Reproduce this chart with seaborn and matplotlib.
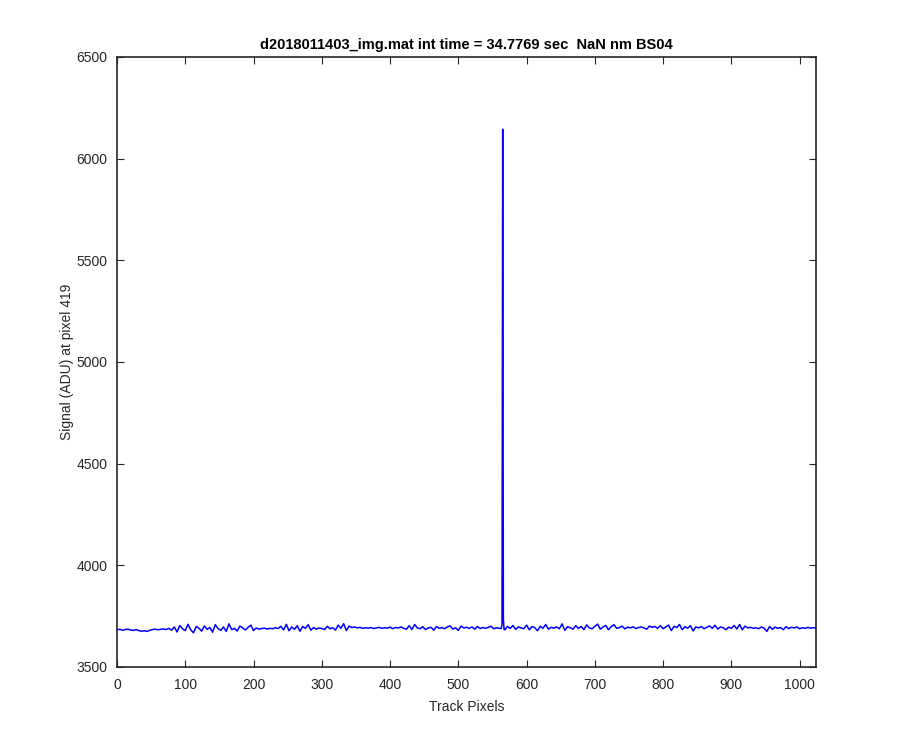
import numpy as np
import pandas as pd
import matplotlib
matplotlib.use("Agg")
import matplotlib.pyplot as plt
import seaborn as sns

# Baseline samples every 4 track pixels (0..1024)
base_pixels = np.arange(0, 1025, 4)
base_signal = [
    3683, 3685, 3681, 3684, 3686, 3682, 3680, 3684, 3679, 3676, 3678, 3675, 3680, 3684, 3686, 3683,
    3685, 3687, 3684, 3690, 3681, 3697, 3672, 3704, 3688, 3679, 3710, 3683, 3668, 3699, 3691, 3676,
    3702, 3685, 3694, 3671, 3708, 3689, 3680, 3697, 3675, 3712, 3684, 3690, 3677, 3701, 3693, 3682,
    3695, 3706, 3679, 3692, 3686, 3689, 3691, 3687, 3690, 3688, 3693, 3689, 3700, 3682, 3710, 3678,
    3697, 3685, 3703, 3676, 3699, 3690, 3708, 3681, 3694, 3686, 3692, 3689, 3684, 3700, 3688, 3693,
    3681, 3706, 3690, 3713, 3679, 3701, 3694, 3697, 3692, 3695, 3690, 3693, 3691, 3694, 3689, 3692,
    3695, 3690, 3693, 3691, 3696, 3688, 3694, 3692, 3697, 3690, 3686, 3703, 3684, 3709, 3692, 3688,
    3698, 3684, 3692, 3695, 3681, 3699, 3690, 3694, 3688, 3697, 3702, 3686, 3693, 3680, 3701, 3692,
    3695, 3690, 3697, 3686, 3699, 3689, 3694, 3690, 3695, 3700, 3688, 3693, 3690, 3692, 3683, 3699,
    3690, 3704, 3685, 3697, 3692, 3688, 3706, 3683, 3699, 3693, 3678, 3701, 3690, 3709, 3686, 3695,
    3691, 3697, 3688, 3712, 3680, 3698, 3693, 3686, 3703, 3690, 3699, 3684, 3707, 3692, 3688, 3700,
    3711, 3686, 3697, 3704, 3683, 3699, 3708, 3690, 3694, 3701, 3687, 3696, 3692, 3698, 3689, 3694,
    3697, 3692, 3686, 3701, 3695, 3699, 3690, 3703, 3688, 3697, 3706, 3679, 3700, 3694, 3709, 3683,
    3698, 3691, 3703, 3677, 3697, 3692, 3699, 3688, 3695, 3702, 3690, 3705, 3686, 3697, 3693, 3683,
    3696, 3690, 3704, 3687, 3709, 3683, 3701, 3692, 3695, 3690, 3693, 3688, 3697, 3691, 3675, 3699,
    3685, 3696, 3690, 3694, 3683, 3698, 3689, 3695, 3692, 3697, 3688, 3693, 3690, 3695, 3691, 3693,
    3692,
]

# Narrow spike near pixel 565
spike_pixels = [563, 564, 565, 566, 567]
spike_signal = [3690, 3712, 6145, 3735, 3684]

x_ticks = [0, 100, 200, 300, 400, 500, 600, 700, 800, 900, 1000]
y_ticks = [3500, 4000, 4500, 5000, 5500, 6000, 6500]

title_text = "d2018011403_img.mat int time = 34.7769 sec  NaN nm BS04"
x_label = "Track Pixels"
y_label = "Signal (ADU) at pixel 419"

base = pd.DataFrame({"pixel": base_pixels, "signal": base_signal})
base = base[(base["pixel"] < spike_pixels[0]) | (base["pixel"] > spike_pixels[-1])]
spike = pd.DataFrame({"pixel": spike_pixels, "signal": spike_signal})
df = pd.concat([base, spike]).sort_values("pixel").reset_index(drop=True)

sns.set_style("white")
plt.rcParams["font.family"] = ["Liberation Sans", "DejaVu Sans"]

fig = plt.figure(figsize=(9, 7.5), dpi=100)
ax = fig.add_axes([0.13, 0.1107, 0.7767, 0.8133])

sns.lineplot(data=df, x="pixel", y="signal", color="#0000FF", linewidth=1.1,
             ax=ax, sort=True, estimator=None)

axc = "#262626"
ax.set_xlim(0, 1024)
ax.set_ylim(3500, 6500)
ax.set_xticks(x_ticks)
ax.set_yticks(y_ticks)
ax.tick_params(direction="in", length=5, width=0.8, colors=axc, labelcolor=axc,
               labelsize=10, top=True, right=True, bottom=True, left=True)
ax.tick_params(axis="x", pad=8)
ax.tick_params(axis="y", pad=7)
for s in ax.spines.values():
    s.set_visible(True)
    s.set_color(axc)
    s.set_linewidth(1.2)

ax.set_xlabel(x_label, fontsize=10, color=axc, labelpad=6)
ax.set_ylabel(y_label, fontsize=10, color=axc, labelpad=2)
ax.set_title(title_text, fontsize=10.5, fontweight="bold", color="black", pad=6)

fig.savefig("out.png", dpi=100, facecolor="white")
